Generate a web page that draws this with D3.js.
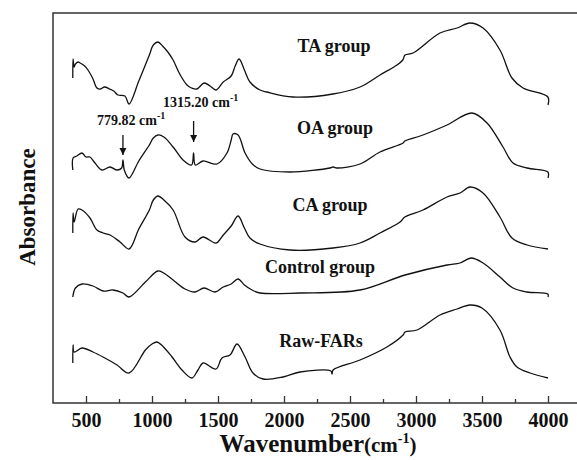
<!DOCTYPE html>
<html>
<head>
<meta charset="utf-8">
<script src="https://cdn.jsdelivr.net/npm/d3@7"></script>
<style>
  body { margin: 0; background: #fff; }
  .serif { font-family: "Liberation Serif", "Times New Roman", serif; font-weight: bold; }
  .curve { fill: none; stroke: #111; stroke-width: 1.3px; stroke-linejoin: round; }
</style>
</head>
<body>
<div id="chart"></div>
<script>
// spectra: [wavenumber (cm-1), absorbance (a.u., already offset)]
var taGroup = [
  [400, 3.25], [402, 3.44], [410, 3.36], [420, 3.39], [440, 3.41], [455, 3.40], [490, 3.37],
  [515, 3.33], [550, 3.25], [583, 3.15], [610, 3.14], [640, 3.16], [680, 3.14], [710, 3.12],
  [742, 3.08], [795, 3.07], [826, 2.99], [900, 3.22], [980, 3.48], [1010, 3.58], [1045, 3.61],
  [1080, 3.57], [1120, 3.51], [1160, 3.43], [1210, 3.29], [1265, 3.18], [1300, 3.15],
  [1340, 3.14], [1395, 3.20], [1440, 3.17], [1485, 3.13], [1540, 3.21], [1600, 3.27],
  [1630, 3.37], [1660, 3.44], [1700, 3.33], [1742, 3.21], [1818, 3.13], [1870, 3.11],
  [2068, 3.06], [2371, 3.09], [2576, 3.16], [2727, 3.28], [2856, 3.38], [2900, 3.43],
  [2917, 3.48], [2977, 3.50], [3182, 3.70], [3311, 3.75], [3409, 3.80], [3508, 3.75],
  [3636, 3.53], [3727, 3.25], [3811, 3.15], [3999, 3.06], [4000, 2.98]
];

var oaGroup = [
  [400, 2.33], [402, 2.45], [430, 2.47], [470, 2.50], [500, 2.46], [530, 2.46], [568, 2.40],
  [621, 2.33], [682, 2.36], [735, 2.33], [770, 2.35], [780, 2.43], [790, 2.33],
  [826, 2.25], [900, 2.42], [980, 2.58], [1010, 2.65], [1045, 2.68], [1090, 2.66], [1160, 2.56],
  [1235, 2.43], [1300, 2.38], [1315, 2.50], [1328, 2.38], [1386, 2.42], [1492, 2.39],
  [1568, 2.50], [1600, 2.63], [1614, 2.69], [1652, 2.68], [1705, 2.50], [1760, 2.39],
  [1818, 2.34], [2045, 2.31], [2348, 2.35], [2371, 2.36], [2400, 2.35], [2576, 2.39],
  [2727, 2.51], [2902, 2.60], [2915, 2.62], [3053, 2.68], [3235, 2.78], [3424, 2.90],
  [3538, 2.80], [3659, 2.56], [3735, 2.40], [3841, 2.35], [3999, 2.31], [4000, 2.25]
];

var caGroup = [
  [400, 1.70], [402, 1.90], [410, 1.81], [440, 1.94], [470, 1.93], [530, 1.85],
  [583, 1.73], [630, 1.70], [682, 1.68], [758, 1.61], [826, 1.54], [900, 1.74], [980, 1.93],
  [1010, 2.03], [1045, 2.07], [1090, 2.03], [1160, 1.93], [1250, 1.66], [1326, 1.61],
  [1386, 1.66], [1485, 1.60], [1540, 1.68], [1600, 1.77], [1652, 1.87], [1700, 1.75],
  [1742, 1.65], [1818, 1.59], [2045, 1.53], [2371, 1.55], [2576, 1.60], [2727, 1.70],
  [2879, 1.81], [2915, 1.86], [3053, 1.93], [3235, 2.06], [3333, 2.10], [3409, 2.16],
  [3508, 2.10], [3636, 1.86], [3727, 1.65], [3841, 1.58], [4000, 1.54]
];

var controlGroup = [
  [400, 1.06], [420, 1.15], [470, 1.19], [553, 1.17], [629, 1.12], [705, 1.13],
  [780, 1.10], [826, 1.06], [950, 1.21], [1045, 1.32], [1100, 1.29], [1160, 1.23],
  [1250, 1.14], [1326, 1.11], [1394, 1.15], [1477, 1.11], [1540, 1.16], [1600, 1.19],
  [1652, 1.24], [1700, 1.18], [1758, 1.13], [1818, 1.10], [2121, 1.10], [2576, 1.13],
  [2917, 1.28], [3235, 1.38], [3333, 1.40], [3417, 1.45], [3508, 1.40], [3636, 1.26],
  [3735, 1.15], [3841, 1.11], [3999, 1.09], [4000, 1.06]
];

var rawFARs = [
  [400, 0.40], [402, 0.58], [410, 0.51], [470, 0.55], [553, 0.51], [629, 0.46],
  [735, 0.38], [826, 0.30], [950, 0.53], [1000, 0.59], [1038, 0.61], [1080, 0.57],
  [1152, 0.46], [1227, 0.33], [1303, 0.25], [1348, 0.33], [1386, 0.40], [1485, 0.34],
  [1530, 0.45], [1591, 0.48], [1644, 0.59], [1705, 0.46], [1765, 0.30], [1841, 0.24],
  [1992, 0.26], [2121, 0.31], [2355, 0.32], [2364, 0.29], [2372, 0.33], [2576, 0.43],
  [2780, 0.56], [2902, 0.68], [2917, 0.71], [3008, 0.73], [3182, 0.88], [3311, 0.94],
  [3409, 0.98], [3500, 0.95], [3636, 0.73], [3712, 0.46], [3765, 0.36], [3864, 0.30],
  [4000, 0.25]
];

var seriesNames = ["TA group", "OA group", "CA group", "Control group", "Raw-FARs"];
var seriesData = [taGroup, oaGroup, caGroup, controlGroup, rawFARs];

var majorTicks = [500, 1000, 1500, 2000, 2500, 3000, 3500, 4000];
var minorTicks = [750, 1250, 1750, 2250, 2750, 3250, 3750];

var peakLabels = ["779.82", "1315.20"];
var peakWavenumbers = [779.82, 1315.20];

// set the dimensions and margins of the graph
var margin = {top: 13, right: 0, bottom: 57, left: 53},
    width = 528,
    height = 460 - margin.top - margin.bottom;

var x = d3.scaleLinear().domain([250, 4250]).range([0, width]);
var y = d3.scaleLinear().domain([0, 3.9]).range([height, 0]);

var line = d3.line()
    .curve(d3.curveCatmullRom.alpha(0.5))
    .x(function(d) { return x(d[0]); })
    .y(function(d) { return y(d[1]); });

var svg = d3.select("#chart").append("svg")
    .attr("width", 577)
    .attr("height", 460);

var g = svg.append("g")
    .attr("transform", "translate(" + margin.left + "," + margin.top + ")");

// frame
g.append("rect")
    .attr("width", width)
    .attr("height", height)
    .attr("fill", "none")
    .attr("stroke", "#333")
    .attr("stroke-width", 1.5);

// minor ticks
var minorAxis = g.append("g")
    .attr("transform", "translate(0," + height + ")")
    .call(d3.axisBottom(x).tickValues(minorTicks).tickSize(-4).tickFormat(""));
minorAxis.select(".domain").remove();

// major ticks + labels
var xAxis = g.append("g")
    .attr("transform", "translate(0," + height + ")")
    .call(d3.axisBottom(x).tickValues(majorTicks).tickSize(-7).tickPadding(10).tickFormat(d3.format("d")));
xAxis.select(".domain").remove();
xAxis.selectAll("line").attr("stroke", "#333").attr("stroke-width", 1.3);
minorAxis.selectAll("line").attr("stroke", "#333").attr("stroke-width", 1.3);
xAxis.selectAll("text")
    .attr("class", "serif")
    .style("font-size", "20px")
    .attr("fill", "#111");

// curves
g.selectAll(".curve")
    .data(seriesData)
  .enter().append("path")
    .attr("class", "curve")
    .attr("d", line);

// group labels
var labelPos = [[334, 52], [335, 134], [330, 211], [320, 273], [321, 347]];
svg.selectAll(".grp")
    .data(seriesNames)
  .enter().append("text")
    .attr("class", "serif grp")
    .attr("x", function(d, i) { return labelPos[i][0]; })
    .attr("y", function(d, i) { return labelPos[i][1]; })
    .attr("text-anchor", "middle")
    .style("font-size", "18px")
    .attr("fill", "#111")
    .text(function(d) { return d; });

// peak annotations on OA curve
svg.append("defs").append("marker")
    .attr("id", "arrow")
    .attr("viewBox", "0 0 10 10")
    .attr("refX", 10).attr("refY", 5)
    .attr("markerWidth", 7).attr("markerHeight", 9)
    .attr("markerUnits", "userSpaceOnUse")
    .attr("orient", "auto")
  .append("path")
    .attr("d", "M0,0 L10,5 L0,10 z")
    .attr("fill", "#111");

var arrowY = [[135, 155], [121, 142]];
var textPos = [[97, 125], [163, 107]];
peakWavenumbers.forEach(function(wn, i) {
  var px = margin.left + x(wn);
  svg.append("line")
      .attr("x1", px).attr("x2", px)
      .attr("y1", arrowY[i][0]).attr("y2", arrowY[i][1])
      .attr("stroke", "#111")
      .attr("stroke-width", 1.3)
      .attr("marker-end", "url(#arrow)");
  var t = svg.append("text")
      .attr("class", "serif")
      .attr("x", textPos[i][0])
      .attr("y", textPos[i][1])
      .style("font-size", "14px")
      .attr("fill", "#111");
  t.append("tspan").text(peakLabels[i] + " cm");
  t.append("tspan").attr("dy", -6).style("font-size", "10px").text("-1");
});

// axis titles
var xt = svg.append("text")
    .attr("class", "serif")
    .attr("x", 318)
    .attr("y", 452)
    .attr("text-anchor", "middle")
    .attr("fill", "#111");
xt.append("tspan").style("font-size", "25px").text("Wavenumber");
xt.append("tspan").style("font-size", "21px").text("(cm");
xt.append("tspan").attr("dy", -9).style("font-size", "14px").text("-1");
xt.append("tspan").attr("dy", 9).style("font-size", "21px").text(")");

svg.append("text")
    .attr("class", "serif")
    .attr("transform", "translate(35,207) rotate(-90)")
    .attr("text-anchor", "middle")
    .style("font-size", "23px")
    .attr("fill", "#111")
    .text("Absorbance");
</script>
</body>
</html>
